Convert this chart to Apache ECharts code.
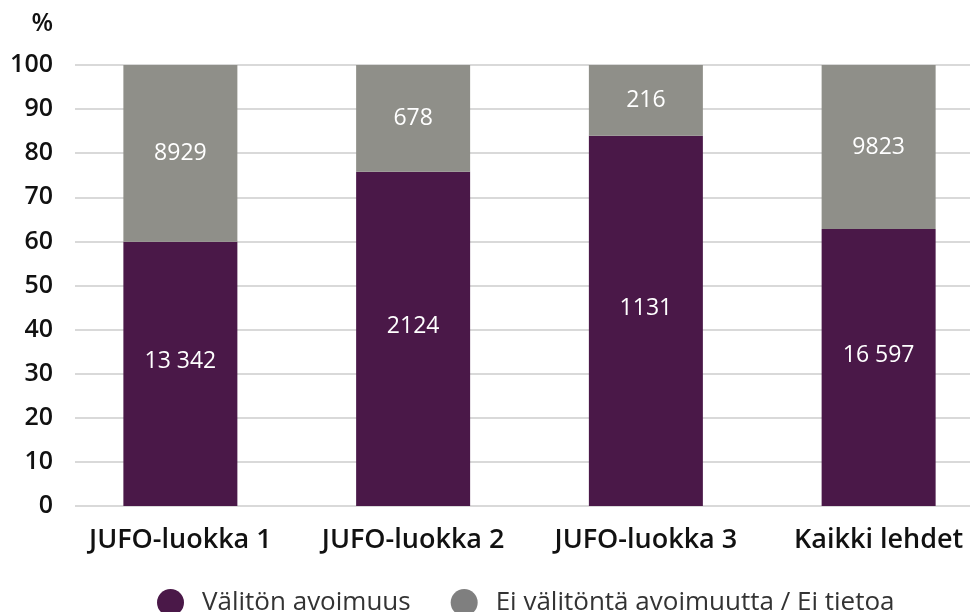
<!DOCTYPE html>
<html>
<head>
<meta charset="utf-8">
<script src="https://cdn.jsdelivr.net/npm/echarts@6/dist/echarts.min.js"></script>
<style>
  html, body { margin: 0; padding: 0; background: #fff; }
  #chart { width: 970px; height: 612px; }
</style>
</head>
<body>
<div id="chart"></div>
<script>
// luokat ja julkaisumäärät
const categories = ['JUFO-luokka 1', 'JUFO-luokka 2', 'JUFO-luokka 3', 'Kaikki lehdet'];
const openCounts = [13342, 2124, 1131, 16597];
const otherCounts = [8929, 678, 216, 9823];
const yTicks = [0, 10, 20, 30, 40, 50, 60, 70, 80, 90, 100];

const seriesNames = ['Välitön avoimuus', 'Ei välitöntä avoimuutta / Ei tietoa'];

// osuus prosentteina
const share = (a, b) => a.map((v, i) => v / (v + b[i]) * 100);
const openPct = share(openCounts, otherCounts);
const otherPct = share(otherCounts, openCounts);

// 16597 -> "16 597"
const fmt = (n) => n >= 10000 ? String(n).replace(/\B(?=(\d{3})+(?!\d))/g, ' ') : String(n);

const FONT = 'Open Sans';

let myChart = echarts.init(document.getElementById('chart'), null, { renderer: 'canvas' });

const option = {
    animation: false,
    textStyle: { fontFamily: FONT },
    legend: {
        top: 584,
        left: 152,
        itemWidth: 27,
        itemHeight: 27,
        itemGap: 40,
        icon: 'circle',
        textStyle: { fontSize: 26, color: '#333', fontFamily: FONT, padding: [0, 0, 0, 13] },
        data: [
            { name: seriesNames[0], itemStyle: { color: '#4a1848' } },
            { name: seriesNames[1], itemStyle: { color: '#7f7f7f' } }
        ]
    },
    grid: [
        // apuruudukko: y-akselin tekstit ja apuviivat
        { left: 75, right: 0, top: 65, height: 441, outerBoundsMode: 'none' },
        // pylväät (ruudukko jatkuu kuvan oikean reunan yli)
        { left: 64, width: 931, top: 65, height: 441, outerBoundsMode: 'none' }
    ],
    xAxis: [
        { gridIndex: 0, type: 'category', data: categories, show: false },
        {
            gridIndex: 1,
            type: 'category',
            data: categories,
            axisLine: { show: false },
            axisTick: { show: false },
            axisLabel: {
                interval: 0,
                margin: 21,
                fontSize: 27,
                fontWeight: 600,
                color: '#111',
                fontFamily: FONT
            }
        }
    ],
    yAxis: [
        {
            gridIndex: 0,
            type: 'value',
            min: 0,
            max: 100,
            interval: 10,
            name: '%',
            nameLocation: 'end',
            nameGap: 29,
            nameTextStyle: { fontSize: 25, fontWeight: 600, color: '#111', align: 'right', padding: [0, 22, 0, 0] },
            axisLine: { show: false },
            axisTick: { show: false },
            axisLabel: {
                margin: 22,
                fontSize: 25,
                fontWeight: 600,
                color: '#111',
                fontFamily: FONT,
                formatter: (v) => yTicks.includes(v) ? String(v) : ''
            },
            splitLine: { lineStyle: { color: '#d9d9d9', width: 2 } }
        },
        { gridIndex: 1, type: 'value', min: 0, max: 100, show: false }
    ],
    series: [
        {
            name: seriesNames[0],
            type: 'bar',
            stack: 'total',
            xAxisIndex: 1,
            yAxisIndex: 1,
            barWidth: 114,
            data: openPct,
            itemStyle: { color: '#4a1848' },
            label: {
                show: true,
                position: 'inside',
                offset: [0, -12],
                color: '#fff',
                fontSize: 23,
                fontFamily: FONT,
                formatter: (p) => fmt(openCounts[p.dataIndex])
            }
        },
        {
            name: seriesNames[1],
            type: 'bar',
            stack: 'total',
            xAxisIndex: 1,
            yAxisIndex: 1,
            barWidth: 114,
            data: otherPct,
            itemStyle: { color: '#8f8f89' },
            label: {
                show: true,
                position: 'inside',
                color: '#fff',
                fontSize: 23,
                fontFamily: FONT,
                formatter: (p) => fmt(otherCounts[p.dataIndex])
            }
        }
    ]
};

myChart.setOption(option);
</script>
</body>
</html>
